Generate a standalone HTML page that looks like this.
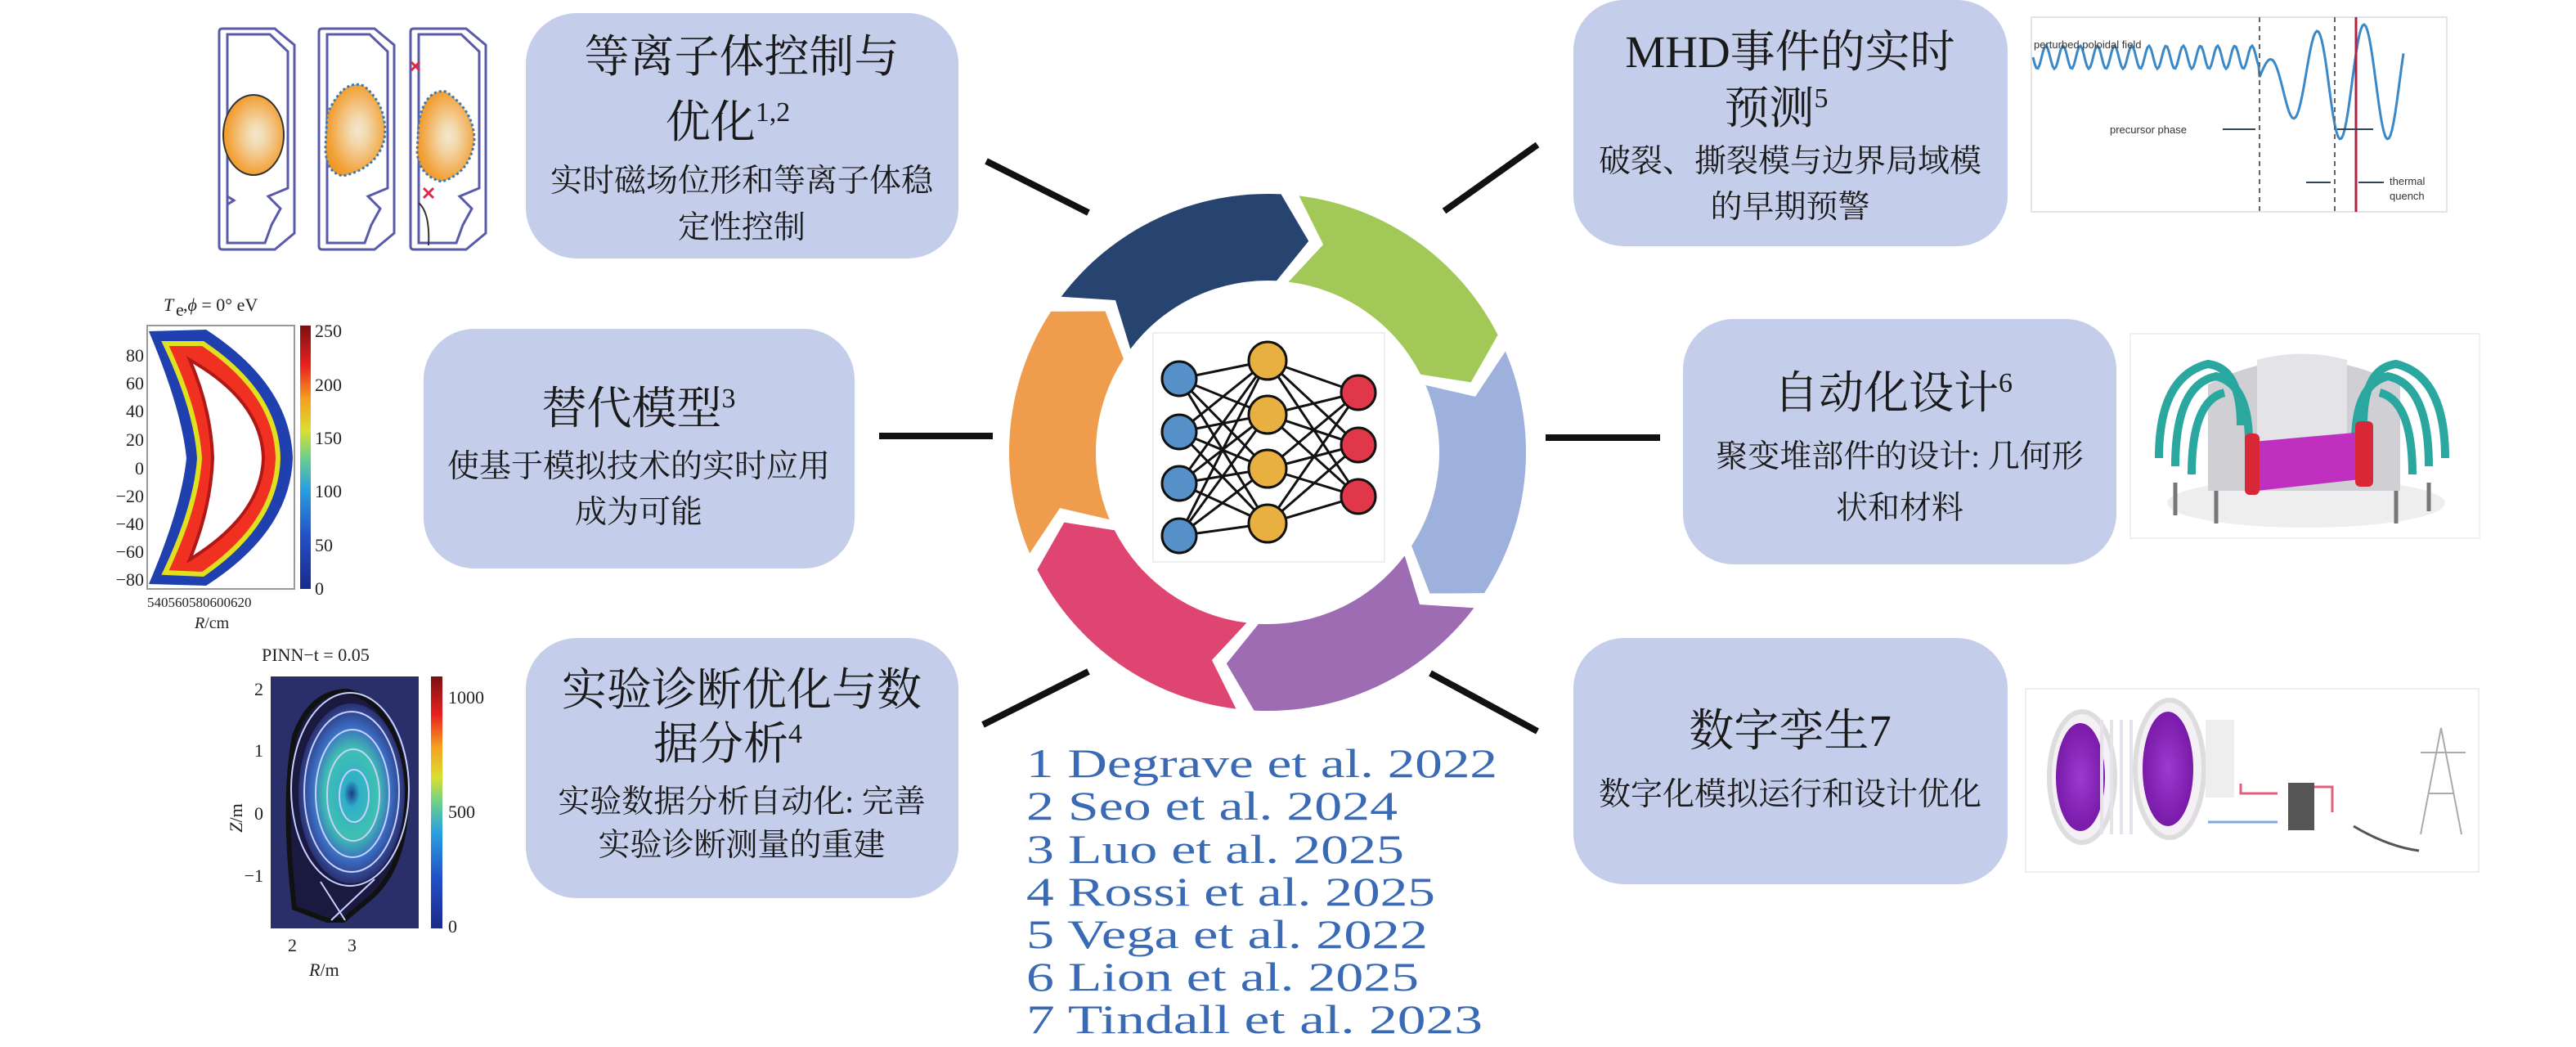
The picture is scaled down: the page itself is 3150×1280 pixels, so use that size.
<!DOCTYPE html>
<html><head><meta charset="utf-8">
<style>
html,body{margin:0;padding:0;background:#fff;}
svg{display:block;}
.t{font-family:"Liberation Serif","Noto Serif CJK SC","Noto Sans CJK SC",serif;fill:#1a1a1a;text-anchor:middle;}
.ref{font-family:"Liberation Serif",serif;fill:#3a6ab4;font-size:50px;}
.ax{font-family:"Liberation Serif",serif;fill:#222;font-size:22px;}
.sm{font-family:"Liberation Sans",sans-serif;fill:#333;font-size:13px;}
</style></head>
<body>
<svg width="3150" height="1280" viewBox="0 0 3150 1280" xmlns="http://www.w3.org/2000/svg">
<defs>
<radialGradient id="pl" cx="0.55" cy="0.5" r="0.6">
<stop offset="0" stop-color="#f3e6cf"/><stop offset="0.25" stop-color="#f2d9ad"/><stop offset="0.5" stop-color="#f3c07a"/><stop offset="0.8" stop-color="#f2a23a"/><stop offset="1" stop-color="#ee9626"/></radialGradient>
<linearGradient id="cb" x1="0" y1="1" x2="0" y2="0">
<stop offset="0" stop-color="#1a2a8a"/><stop offset="0.2" stop-color="#2250c8"/><stop offset="0.38" stop-color="#2aa0e0"/><stop offset="0.5" stop-color="#6cd08a"/><stop offset="0.6" stop-color="#d8e030"/><stop offset="0.72" stop-color="#f5a020"/><stop offset="0.85" stop-color="#e82020"/><stop offset="1" stop-color="#7a1010"/></linearGradient>
<radialGradient id="pinn" cx="0.5" cy="0.5" r="0.5">
<stop offset="0" stop-color="#1a3a8a"/><stop offset="0.15" stop-color="#30b0c8"/><stop offset="0.5" stop-color="#40c0b0"/><stop offset="0.75" stop-color="#3a6ac0"/><stop offset="1" stop-color="#2a3070"/></radialGradient>
<radialGradient id="pur" cx="0.5" cy="0.5" r="0.5">
<stop offset="0" stop-color="#9a3ad0"/><stop offset="1" stop-color="#7a1aa8"/></radialGradient>
</defs>
<rect width="3150" height="1280" fill="#fff"/>

<g stroke="#111" stroke-width="8" stroke-linecap="butt">
<line x1="1206" y1="197" x2="1331" y2="260"/>
<line x1="1075" y1="533" x2="1214" y2="533"/>
<line x1="1202" y1="886" x2="1331" y2="821"/>
<line x1="1766" y1="258" x2="1880" y2="177"/>
<line x1="1890" y1="535" x2="2030" y2="535"/>
<line x1="1749" y1="823" x2="1880" y2="894"/>
</g>

<g fill="#c4cde9">
<rect x="643" y="16" width="529" height="300" rx="62"/>
<rect x="518" y="402" width="527" height="293" rx="62"/>
<rect x="643" y="780" width="529" height="318" rx="62"/>
<rect x="1924" y="0" width="531" height="301" rx="62"/>
<rect x="2058" y="390" width="530" height="300" rx="62"/>
<rect x="1924" y="780" width="531" height="301" rx="62"/>
</g>

<g class="t">
<text x="907" y="88" font-size="55">等离子体控制与</text>
<text x="890" y="168" font-size="55">优化<tspan font-size="34" dy="-20">1,2</tspan></text>
<text x="907" y="234" font-size="39">实时磁场位形和等离子体稳</text>
<text x="907" y="291" font-size="39">定性控制</text>

<text x="781" y="518" font-size="55">替代模型<tspan font-size="34" dy="-20">3</tspan></text>
<text x="781" y="583" font-size="39">使基于模拟技术的实时应用</text>
<text x="781" y="639" font-size="39">成为可能</text>

<text x="907" y="862" font-size="55">实验诊断优化与数</text>
<text x="890" y="928" font-size="55">据分析<tspan font-size="34" dy="-20">4</tspan></text>
<text x="907" y="993" font-size="39">实验数据分析自动化: 完善</text>
<text x="907" y="1046" font-size="39">实验诊断测量的重建</text>

<text x="2189" y="82" font-size="55">MHD事件的实时</text>
<text x="2172" y="151" font-size="55">预测<tspan font-size="34" dy="-20">5</tspan></text>
<text x="2189" y="210" font-size="39">破裂、撕裂模与边界局域模</text>
<text x="2189" y="266" font-size="39">的早期预警</text>

<text x="2315" y="499" font-size="55">自动化设计<tspan font-size="34" dy="-20">6</tspan></text>
<text x="2323" y="571" font-size="39">聚变堆部件的设计: 几何形</text>
<text x="2323" y="634" font-size="39">状和材料</text>

<text x="2189" y="912" font-size="55">数字孪生7</text>
<text x="2189" y="984" font-size="39">数字化模拟运行和设计优化</text>
</g>

<g class="ref">
<text x="1255" y="950" textLength="576" lengthAdjust="spacingAndGlyphs">1 Degrave et al. 2022</text>
<text x="1255" y="1002" textLength="454" lengthAdjust="spacingAndGlyphs">2 Seo et al. 2024</text>
<text x="1255" y="1055" textLength="462" lengthAdjust="spacingAndGlyphs">3 Luo et al. 2025</text>
<text x="1255" y="1107" textLength="500" lengthAdjust="spacingAndGlyphs">4 Rossi et al. 2025</text>
<text x="1255" y="1159" textLength="491" lengthAdjust="spacingAndGlyphs">5 Vega et al. 2022</text>
<text x="1255" y="1211" textLength="480" lengthAdjust="spacingAndGlyphs">6 Lion et al. 2025</text>
<text x="1255" y="1263" textLength="558" lengthAdjust="spacingAndGlyphs">7 Tindall et al. 2023</text>
</g>

<g id="ring"></g>

<rect x="1410" y="407" width="283" height="280" fill="#fff" stroke="#eee" stroke-width="2"/>
<g stroke="#111" stroke-width="3" id="edges"></g>
<g stroke="#111" stroke-width="3">
<circle cx="1442" cy="463" r="21" fill="#5590c8"/>
<circle cx="1442" cy="528" r="21" fill="#5590c8"/>
<circle cx="1442" cy="591" r="21" fill="#5590c8"/>
<circle cx="1442" cy="655" r="21" fill="#5590c8"/>
<circle cx="1550" cy="441" r="23" fill="#e8b040"/>
<circle cx="1550" cy="507" r="23" fill="#e8b040"/>
<circle cx="1550" cy="573" r="23" fill="#e8b040"/>
<circle cx="1550" cy="640" r="23" fill="#e8b040"/>
<circle cx="1661" cy="480" r="21" fill="#e03848"/>
<circle cx="1661" cy="544" r="21" fill="#e03848"/>
<circle cx="1661" cy="607" r="21" fill="#e03848"/>
</g>

<g fill="none" stroke="#5a5aaa" stroke-width="3">
<g transform="translate(268,35)">
<path d="M4 0 H68 L92 20 V250 L68 270 H4 Q0 270 0 266 V4 Q0 0 4 0Z"/>
<path d="M10 7 H62 L84 28 V195 L60 205 L75 220 L64 240 L56 262 H10 Z M10 205 L18 210 L10 215"/>
</g>
<g transform="translate(390,35)">
<path d="M4 0 H68 L92 20 V250 L68 270 H4 Q0 270 0 266 V4 Q0 0 4 0Z"/>
<path d="M10 7 H62 L84 28 V195 L60 205 L75 220 L64 240 L56 262 H10 Z"/>
</g>
<g transform="translate(502,35)">
<path d="M4 0 H68 L92 20 V250 L68 270 H4 Q0 270 0 266 V4 Q0 0 4 0Z"/>
<path d="M10 7 H62 L84 28 V195 L60 205 L75 220 L64 240 L56 262 H10 Z"/>
</g>
</g>
<ellipse cx="310" cy="165" rx="37" ry="49" fill="url(#pl)" stroke="#333" stroke-width="2"/>
<path d="M400 140 Q420 95 445 105 Q475 130 470 170 Q462 205 420 215 Q398 212 398 180Z" fill="url(#pl)" stroke="#3a7ab0" stroke-width="3" stroke-dasharray="3 3"/>
<path d="M512 150 Q520 108 545 112 Q580 135 580 172 Q575 212 540 222 Q512 215 510 185Z" fill="url(#pl)" stroke="#3a7ab0" stroke-width="3" stroke-dasharray="3 3"/>
<g stroke="#e02848" stroke-width="3"><path d="M503 76 l10 10 M513 76 l-10 10 M518 230 l12 12 M530 230 l-12 12"/></g>
<path d="M512 248 Q526 260 524 300" fill="none" stroke="#333" stroke-width="2"/>

<text class="ax" x="200" y="380" font-size="26" font-style="italic">T</text>
<text class="ax" x="215" y="386" font-size="15">e</text>
<text class="ax" x="224" y="380" font-size="26">,<tspan font-style="italic">ϕ</tspan> = 0°  eV</text>
<rect x="180" y="398" width="180" height="322" fill="#fff" stroke="#999" stroke-width="2"/>
<path d="M182 405 L252 403 Q355 470 358 560 Q355 650 252 716 L182 714 Q222 620 228 560 Q222 500 182 405Z" fill="#2040b0"/>
<path d="M202 420 L248 420 Q338 480 340 560 Q338 640 248 702 L202 700 Q240 620 244 560 Q240 500 202 420Z" fill="#f03020" stroke="#e0e020" stroke-width="6"/>
<path d="M232 440 Q320 490 322 560 Q320 630 232 684 Q258 620 260 560 Q258 500 232 440Z" fill="#fff" stroke="#b01818" stroke-width="4"/>
<rect x="367" y="398" width="13" height="322" fill="url(#cb)"/>
<g class="ax" font-size="24">
<text x="385" y="412">250</text><text x="385" y="478">200</text><text x="385" y="543">150</text><text x="385" y="608">100</text><text x="385" y="674">50</text><text x="385" y="727">0</text>
<g text-anchor="end"><text x="176" y="442">80</text><text x="176" y="476">60</text><text x="176" y="510">40</text><text x="176" y="545">20</text><text x="176" y="580">0</text><text x="176" y="614">−20</text><text x="176" y="648">−40</text><text x="176" y="682">−60</text><text x="176" y="716">−80</text></g>
<text x="180" y="742" font-size="17">540560580600620</text>
<text x="238" y="768" font-size="20" font-style="italic">R<tspan font-style="normal">/cm</tspan></text>
</g>

<text class="ax" x="320" y="808" font-size="24">PINN−t = 0.05</text>
<rect x="331" y="827" width="181" height="308" fill="#2a2f6a"/>
<path d="M360 1110 Q345 980 360 900 Q380 845 425 845 Q485 860 497 960 Q500 1060 450 1100 L420 1125 L400 1125Z" fill="#1a1a40" stroke="#111" stroke-width="6"/>
<ellipse cx="430" cy="970" rx="65" ry="110" fill="url(#pinn)"/>
<g fill="none" stroke="#c8d0ff" stroke-width="2">
<ellipse cx="428" cy="965" rx="72" ry="118"/><ellipse cx="430" cy="968" rx="58" ry="98"/><ellipse cx="431" cy="970" rx="45" ry="78"/><ellipse cx="432" cy="972" rx="32" ry="56"/><ellipse cx="433" cy="973" rx="18" ry="32"/>
<path d="M392 1078 L422 1125 M458 1075 L405 1125"/>
</g>
<rect x="527" y="827" width="14" height="308" fill="url(#cb)"/>
<g class="ax" font-size="24">
<text x="548" y="860">1000</text><text x="548" y="1000">500</text><text x="548" y="1140">0</text>
<g text-anchor="end"><text x="322" y="850">2</text><text x="322" y="925">1</text><text x="322" y="1002">0</text><text x="322" y="1078">−1</text></g>
<text x="352" y="1163">2</text><text x="425" y="1163">3</text>
<text x="378" y="1193" font-style="italic">R<tspan font-style="normal">/m</tspan></text>
<text transform="translate(296,1000) rotate(-90)" text-anchor="middle" font-style="italic">Z<tspan font-style="normal">/m</tspan></text>
</g>

<rect x="2484" y="21" width="508" height="238" fill="#fff" stroke="#e4e4e4" stroke-width="2"/>
<path id="wave" fill="none" stroke="#3a88c8" stroke-width="3"/>
<g stroke="#666" stroke-width="2" stroke-dasharray="6 5"><line x1="2763" y1="21" x2="2763" y2="259"/><line x1="2855" y1="21" x2="2855" y2="259"/></g>
<line x1="2881" y1="21" x2="2881" y2="259" stroke="#b02040" stroke-width="3"/>
<text class="sm" x="2487" y="59">perturbed poloidal field</text>
<text class="sm" x="2580" y="163">precursor phase</text>
<text class="sm" x="2922" y="226">thermal</text><text class="sm" x="2922" y="244">quench</text>
<g stroke="#345" stroke-width="2"><line x1="2718" y1="158" x2="2758" y2="158"/><line x1="2858" y1="158" x2="2902" y2="158"/><line x1="2820" y1="223" x2="2850" y2="223"/><line x1="2884" y1="223" x2="2915" y2="223"/></g>

<rect x="2605" y="408" width="427" height="250" fill="#fff" stroke="#f0f0f0" stroke-width="2"/>
<ellipse cx="2820" cy="615" rx="170" ry="30" fill="#eee"/>
<path d="M2700 470 Q2815 410 2935 470 L2935 600 L2700 600Z" fill="#d0d0d4"/>
<path d="M2760 440 Q2815 425 2870 440 L2870 560 L2760 560Z" fill="#e4e4e8"/>
<g fill="none" stroke="#2aa8a0" stroke-width="10">
<path d="M2640 560 Q2640 460 2700 445 Q2740 450 2740 520"/><path d="M2660 570 Q2660 470 2710 460 Q2750 470 2750 540"/><path d="M2680 580 Q2680 490 2720 480"/>
<path d="M2990 560 Q2990 460 2930 445 Q2890 450 2890 520"/><path d="M2970 570 Q2970 470 2920 460 Q2880 470 2880 540"/><path d="M2950 580 Q2950 490 2910 480"/>
</g>
<path d="M2755 540 L2890 528 L2895 585 L2760 600Z" fill="#c030c0"/>
<rect x="2745" y="530" width="18" height="75" rx="6" fill="#d82838"/>
<rect x="2880" y="515" width="22" height="80" rx="6" fill="#d82838"/>
<g stroke="#777" stroke-width="5"><line x1="2660" y1="590" x2="2660" y2="630"/><line x1="2710" y1="600" x2="2710" y2="640"/><line x1="2930" y1="600" x2="2930" y2="640"/><line x1="2970" y1="590" x2="2970" y2="625"/></g>

<rect x="2477" y="842" width="554" height="224" fill="#fff" stroke="#eee" stroke-width="2"/>
<ellipse cx="2546" cy="950" rx="40" ry="80" fill="#f4f0f6" stroke="#ddd" stroke-width="6"/>
<ellipse cx="2544" cy="950" rx="30" ry="66" fill="url(#pur)"/>
<g fill="none" stroke="#e6e2ea" stroke-width="4"><path d="M2570 880 V1020 M2582 880 V1020 M2594 880 V1020 M2606 880 V1020"/></g>
<ellipse cx="2653" cy="940" rx="42" ry="84" fill="#f4f0f6" stroke="#ddd" stroke-width="6"/>
<ellipse cx="2651" cy="940" rx="31" ry="70" fill="url(#pur)"/>
<rect x="2697" y="880" width="35" height="95" fill="#eee"/>
<path d="M2740 958 V970 H2785" fill="none" stroke="#e06080" stroke-width="3"/>
<path d="M2700 1005 H2785" fill="none" stroke="#80a8e0" stroke-width="3"/>
<rect x="2798" y="957" width="32" height="58" fill="#555"/>
<path d="M2830 962 H2852 V993" fill="none" stroke="#e06080" stroke-width="3"/>
<path d="M2878 1010 Q2920 1035 2958 1040" fill="none" stroke="#555" stroke-width="3"/>
<g fill="none" stroke="#aaa" stroke-width="2"><path d="M2960 1020 L2985 890 L3010 1020 M2970 970 H3000 M2960 920 H3015"/></g>
<script>
(function(){
var ns="http://www.w3.org/2000/svg",cx=1550,cy=553,R=316,r=210,m=(R+r)/2;
function P(a,rad){var t=(a-90)*Math.PI/180;return (cx+rad*Math.cos(t)).toFixed(1)+" "+(cy+rad*Math.sin(t)).toFixed(1);}
var cols=["#274370","#a2c958","#9eb0dc","#9e6cb3","#de4570","#ef9d4c"];
var starts=[-55,5,65,125,185,245];
var g=document.getElementById("ring");
for(var i=0;i<6;i++){
 var a0=starts[i]+2,a1=starts[i]+60-2,h=8;
 var d="M"+P(a0,R)+" A"+R+" "+R+" 0 0 1 "+P(a1,R)+" L"+P(a1+h,m)+" L"+P(a1,r)+" A"+r+" "+r+" 0 0 0 "+P(a0,r)+" L"+P(a0+h,m)+" Z";
 var p=document.createElementNS(ns,"path");p.setAttribute("d",d);p.setAttribute("fill",cols[i]);g.appendChild(p);
}
var A=[[1442,463],[1442,528],[1442,591],[1442,655]],B=[[1550,441],[1550,507],[1550,573],[1550,640]],C=[[1661,480],[1661,544],[1661,607]];
var e=document.getElementById("edges");
function L(p,q){var l=document.createElementNS(ns,"line");l.setAttribute("x1",p[0]);l.setAttribute("y1",p[1]);l.setAttribute("x2",q[0]);l.setAttribute("y2",q[1]);e.appendChild(l);}
A.forEach(function(a){B.forEach(function(b){L(a,b);});});
B.forEach(function(b){C.forEach(function(c){L(b,c);});});
var w="M2486 70";
for(var x=2486;x<=2763;x+=2){w+=" L"+x+" "+(70+14*Math.sin((x-2486)/21*2*Math.PI)).toFixed(1);}
for(var x=2763;x<=2940;x+=2){var t=(x-2763);var amp=Math.min(70,20+t*0.6);w+=" L"+x+" "+(100-amp*Math.sin(t/58*2*Math.PI+0.3)).toFixed(1);}
document.getElementById("wave").setAttribute("d",w);
})();
</script>
</svg>
</body></html>
